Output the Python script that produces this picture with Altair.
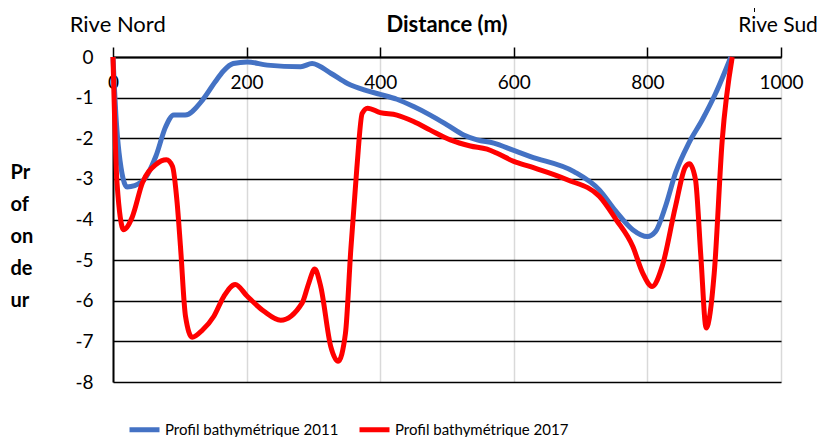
import altair as alt
import pandas as pd

# 2011 profile
dist_2011 = [0, 5, 9, 21, 44, 64, 79, 91, 108, 134, 153, 165, 180, 201, 231, 281, 298,
             326, 351, 376, 400, 425, 450, 475, 500, 525, 545, 570, 600, 625, 690, 728,
             753, 778, 800, 812, 827, 842, 862, 882, 902, 925]
depth_2011 = [0, -1.6, -2.35, -3.2, -3.06, -2.45, -1.71, -1.43, -1.43, -1.06, -0.61, -0.35,
              -0.16, -0.12, -0.2, -0.24, -0.16, -0.4, -0.65, -0.81, -0.92, -1.04, -1.22,
              -1.43, -1.67, -1.92, -2.04, -2.12, -2.3, -2.45, -2.82, -3.27, -3.8, -4.25,
              -4.42, -4.3, -3.68, -2.86, -2.12, -1.55, -0.9, 0]

# 2017 profile
dist_2017 = [0, 6, 16, 29, 44, 64, 80, 89, 96, 101, 108.5, 118.5, 134, 151, 166, 183, 201,
             226, 251, 283, 293, 302, 311, 326, 337, 348, 356, 365, 373, 381, 400, 425,
             450, 475, 505, 535, 560, 575, 600, 625, 680, 728, 753, 778, 793, 807, 822,
             842, 857, 863, 872, 880, 888, 900, 912, 927]
depth_2017 = [0, -3.1, -4.25, -3.93, -3.1, -2.65, -2.53, -2.69, -3.59, -4.66, -6.38, -6.9,
              -6.72, -6.38, -5.89, -5.6, -5.89, -6.26, -6.48, -6.06, -5.57, -5.22, -5.65,
              -7.13, -7.49, -6.8, -4.74, -2.74, -1.39, -1.26, -1.37, -1.43, -1.59, -1.8,
              -2.04, -2.19, -2.27, -2.37, -2.57, -2.7, -3.02, -3.43, -4.0, -4.66, -5.32,
              -5.65, -5.16, -3.68, -2.7, -2.63, -3.02, -4.9, -6.67, -5.33, -2.05, 0]

series_names = ["Profil bathymétrique 2011", "Profil bathymétrique  2017"]
series_colors = ["#4472C4", "#FF0000"]
x_ticks = [0, 200, 400, 600, 800, 1000]
y_ticks = [-8, -7, -6, -5, -4, -3, -2, -1, 0]
y_title = ["Pr", "of", "on", "de", "ur"]

df11 = pd.DataFrame({"dist": dist_2011, "depth": depth_2011, "series": series_names[0]})
df17 = pd.DataFrame({"dist": dist_2017, "depth": depth_2017, "series": series_names[1]})

FONT = "Lato"

x_enc = alt.X(
    "dist:Q",
    scale=alt.Scale(domain=[0, 1000], nice=False),
    axis=alt.Axis(
        orient="top", values=x_ticks, grid=True, gridColor="#D9D9D9", gridWidth=1.5,
        domainColor="black", domainWidth=2, tickColor="black", tickSize=10, tickWidth=1.5,
        labelPadding=-35, labelBaseline="middle", labelFontSize=19, labelFont=FONT,
        labelColor="black", labelFlush=False, labelOverlap=False, title=None,
        labelExpr="datum.value + ''",
    ),
)
y_enc = alt.Y(
    "depth:Q",
    scale=alt.Scale(domain=[-8, 0], nice=False),
    axis=alt.Axis(
        values=y_ticks, grid=True, gridColor="black", gridWidth=1.5,
        domainColor="black", domainWidth=2, ticks=False, labelPadding=20,
        labelFontSize=19, labelFont=FONT, labelColor="black",
        labelExpr="datum.value + ''",
        title=y_title, titleAngle=0, titleAlign="left", titleBaseline="alphabetic",
        titleX=-103, titleY=121, titleLineHeight=32, titleFontSize=20,
        titleFont=FONT, titleFontWeight="bold", titleColor="black",
    ),
)
color_enc = alt.Color(
    "series:N",
    scale=alt.Scale(domain=series_names, range=series_colors),
    legend=alt.Legend(
        orient="none", legendX=14, legendY=355, direction="horizontal", columns=2,
        columnPadding=10, symbolType="stroke", symbolSize=900, symbolStrokeWidth=5,
        labelFontSize=15, labelFont=FONT, labelColor="black",
        labelOffset=3, labelLimit=400, title=None,
    ),
)

line11 = alt.Chart(df11).mark_line(interpolate="monotone", strokeWidth=5).encode(
    x=x_enc, y=y_enc, color=color_enc)
line17 = alt.Chart(df17).mark_line(interpolate="monotone", strokeWidth=5).encode(
    x=x_enc, y=y_enc, color=color_enc)

def label(txt, xpx, bold=False, size=22):
    return alt.Chart(pd.DataFrame({"t": [txt]})).mark_text(
        font=FONT, fontSize=size, fontWeight="bold" if bold else "normal",
        color="black", align="center", baseline="alphabetic",
    ).encode(text="t:N", x=alt.value(xpx), y=alt.value(-25))

rive_nord = label("Rive Nord", 4.7)
distance = label("Distance (m)", 334, bold=True)
rive_sud = label("Rive Sud", 665, size=21)
tick_mark = alt.Chart(pd.DataFrame({"a": [0]})).mark_rule(color="black", strokeWidth=1).encode(
    x=alt.value(641.5), y=alt.value(-57), y2=alt.value(-45))

chart = alt.layer(line11, line17, rive_nord, distance, rive_sud, tick_mark).properties(
    width=668, height=325,
    autosize=alt.AutoSizeParams(type="none"),
    padding={"left": 105, "top": 49, "right": 38, "bottom": 55},
).configure_view(stroke=None).configure(background="white")

chart.save("out.html", embed_options={"renderer": "svg", "actions": False})
